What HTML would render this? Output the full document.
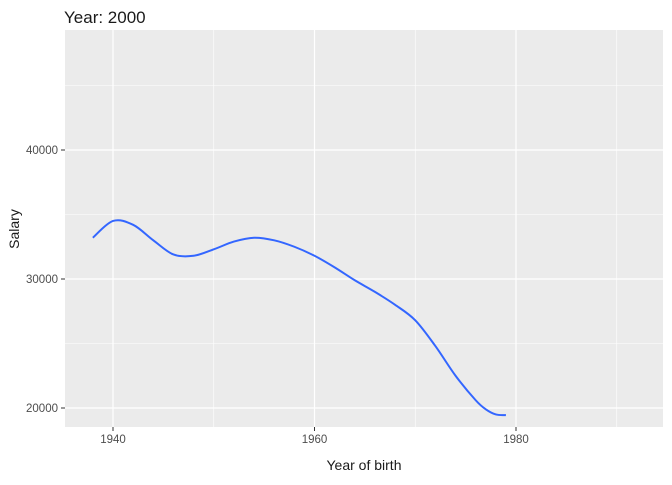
<!DOCTYPE html>
<html><head><meta charset="utf-8"><style>
body{margin:0;background:#fff;font-family:"Liberation Sans",sans-serif}
</style></head><body>
<svg width="672" height="480" id="chart">
<rect x="0" y="0" width="672" height="480" fill="#fff"/>
<text x="64" y="23" font-size="17" fill="#1a1a1a">Year: 2000</text>
<rect x="65" y="30" width="598" height="397" fill="#ebebeb"/>
<g id="grid"></g>
<g id="ticks"></g>
<path id="line" fill="none" stroke="#3366ff" stroke-width="2"/>
<text x="364" y="470" font-size="14" text-anchor="middle" fill="#1a1a1a">Year of birth</text>
<text transform="translate(19,229) rotate(-90)" font-size="14" text-anchor="middle" fill="#1a1a1a">Salary</text>
</svg>
<script>
const years=[1938,1940,1942,1944,1946,1948,1950,1952,1954,1956,1958,1960,1962,1964,1966,1968,1970,1972,1974,1976,1977,1978,1979];
const salary=[33200,34500,34200,33000,31900,31800,32300,32900,33200,33000,32500,31800,30900,29900,29000,28000,26800,24800,22500,20600,19900,19500,19450];
const xTicks=[1940,1960,1980];
const xMinor=[1950,1970,1990];
const yTicks=[20000,30000,40000];
const yMinor=[25000,35000,45000];
const X=v=>113+(v-1940)*10.075;
const Y=v=>408-(v-20000)*0.0129;
const ns="http://www.w3.org/2000/svg";
const grid=document.getElementById('grid'),ticks=document.getElementById('ticks');
function ln(x1,y1,x2,y2,w,parent,name){const l=document.createElementNS(ns,'line');
l.setAttribute('x1',x1);l.setAttribute('y1',y1);l.setAttribute('x2',x2);l.setAttribute('y2',y2);
l.setAttribute('stroke',parent===grid?'#fff':'#333');l.setAttribute('stroke-width',w);


parent.appendChild(l);}
function tx(x,y,s,anchor,name){const t=document.createElementNS(ns,'text');
t.setAttribute('x',x);t.setAttribute('y',y);t.setAttribute('font-size','11.5');t.setAttribute('fill','#4d4d4d');t.setAttribute('text-anchor',anchor);t.textContent=s;


ticks.appendChild(t);}
xMinor.forEach(v=>ln(X(v),30,X(v),427,0.6,grid,'x-minor-gridline'));
yMinor.forEach(v=>ln(65,Y(v),663,Y(v),0.6,grid,'y-minor-gridline'));
xTicks.forEach(v=>{ln(X(v),30,X(v),427,1.2,grid,'x-major-gridline');ln(X(v),427,X(v),431,1,ticks,'x-tick');tx(X(v),443,v,'middle','x-tick-label');});
yTicks.forEach(v=>{ln(65,Y(v),663,Y(v),1.2,grid,'y-major-gridline');ln(61,Y(v),65,Y(v),1,ticks,'y-tick');tx(58,Y(v)+4,v,'end','y-tick-label');});
const pts=years.map((y,i)=>[X(y),Y(salary[i])]);
let d='M'+pts[0][0]+','+pts[0][1];
for(let i=0;i<pts.length-1;i++){const p0=pts[Math.max(0,i-1)],p1=pts[i],p2=pts[i+1],p3=pts[Math.min(pts.length-1,i+2)];
d+=' C'+(p1[0]+(p2[0]-p0[0])/6)+','+(p1[1]+(p2[1]-p0[1])/6)+' '+(p2[0]-(p3[0]-p1[0])/6)+','+(p2[1]-(p3[1]-p1[1])/6)+' '+p2[0]+','+p2[1];}
document.getElementById('line').setAttribute('d',d);
</script>
</body></html>
